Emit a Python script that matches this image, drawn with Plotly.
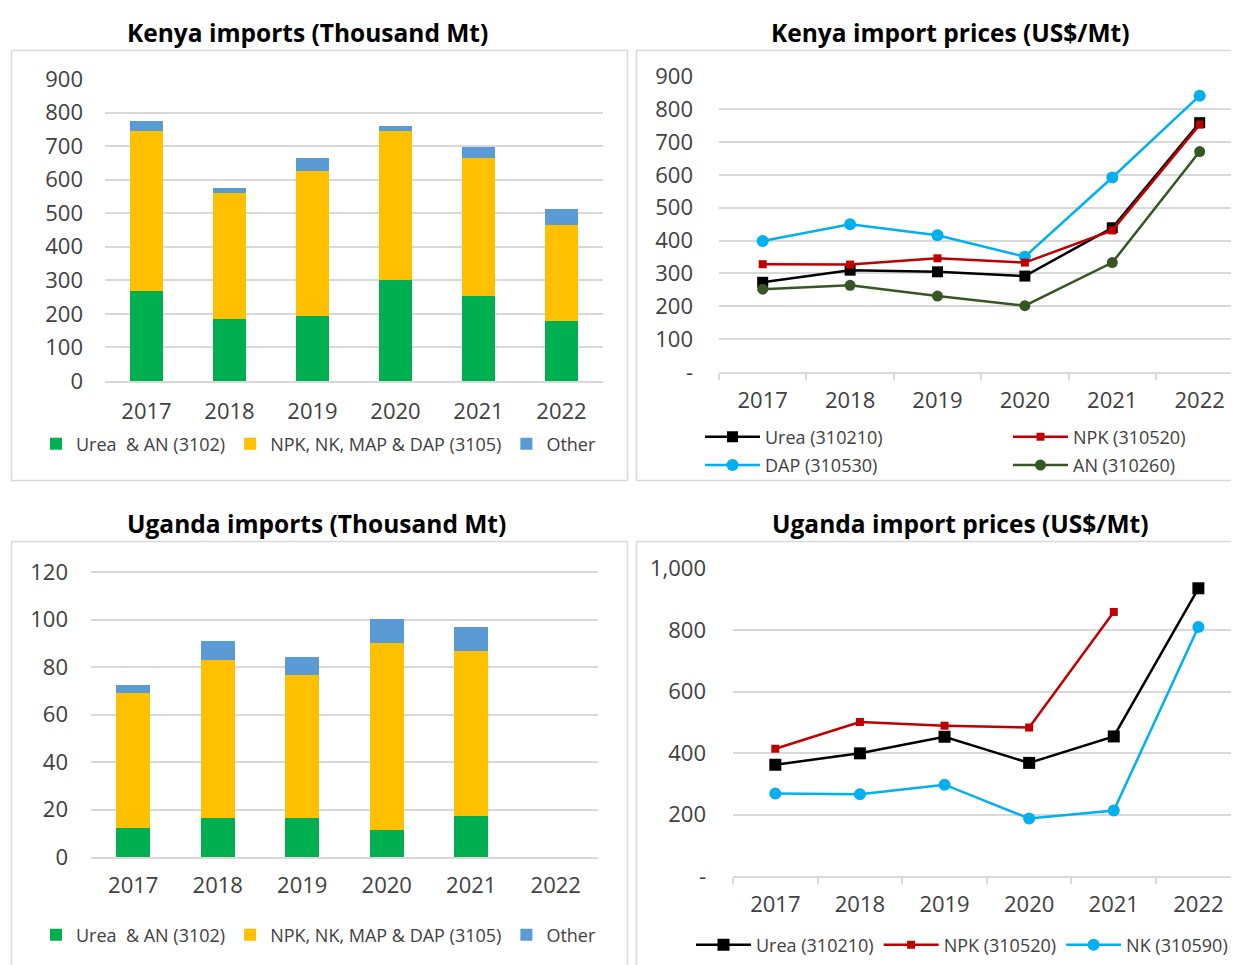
import plotly.graph_objects as go

# Categories
years = ['2017', '2018', '2019', '2020', '2021', '2022']

# Kenya imports (Thousand Mt)
kenya_urea_an = [268, 184, 193, 302, 253, 180]
kenya_npk = [478, 375, 433, 442, 413, 284]
kenya_other = [30, 17, 40, 17, 30, 49]

# Kenya import prices (US$/Mt)
kenya_urea_price = [273, 310, 305, 292, 439, 759]
kenya_npk_price = [328, 327, 346, 333, 431, 753]
kenya_dap_price = [399, 450, 416, 351, 592, 841]
kenya_an_price = [252, 264, 231, 202, 333, 671]

# Uganda imports (Thousand Mt) - no 2022 data
uganda_urea_an = [12.2, 16.4, 16.4, 11.2, 17.3, None]
uganda_npk = [56.8, 66.4, 60.4, 78.9, 69.7, None]
uganda_other = [3.4, 8.1, 7.3, 10.0, 10.1, None]

# Uganda import prices (US$/Mt)
uganda_urea_price = [362, 399, 453, 368, 454, 936]
uganda_npk_price = [414, 501, 489, 483, 859, None]
uganda_nk_price = [268, 266, 297, 187, 213, 810]

# Tick labels (Excel style "-" for zero)
kenya_price_tickvals = [0, 100, 200, 300, 400, 500, 600, 700, 800, 900]
kenya_price_ticktext = ['-', '100', '200', '300', '400', '500', '600', '700', '800', '900']
uganda_price_tickvals = [0, 200, 400, 600, 800, 1000]
uganda_price_ticktext = ['-', '200', '400', '600', '800', '1,000']

OFF = 8  # the page body has an 8px margin
W, H = 1239 - OFF, 965 - OFF  # so the figure fits the window exactly
FONT = 'Open Sans'
GRID = '#d9d9d9'
TXT = '#404040'

# helpers to go from page pixels to paper coords
def px(x):
    return (x - OFF) / W

def py(y):
    return 1 - (y - OFF) / H

bar_colours = ['#00B050', '#FFC000', '#5B9BD5']
bar_names = ['Urea  & AN (3102)', 'NPK, NK, MAP & DAP (3105)', 'Other']

fig = go.Figure()

# Kenya imports bars
for name, vals, col in zip(bar_names, [kenya_urea_an, kenya_npk, kenya_other], bar_colours):
    fig.add_trace(go.Bar(x=years, y=vals, name=name, marker=dict(color=col, line=dict(width=0)),
                         xaxis='x', yaxis='y', legend='legend'))

# Kenya price lines
kenya_lines = [
    ['Urea (310210)', kenya_urea_price, '#000000', 'square', 11, 'legend2'],
    ['DAP (310530)', kenya_dap_price, '#00B0F0', 'circle', 12, 'legend2'],
    ['NPK (310520)', kenya_npk_price, '#C00000', 'square', 8, 'legend3'],
    ['AN (310260)', kenya_an_price, '#375623', 'circle', 11, 'legend3'],
]
for name, vals, col, sym, size, leg in kenya_lines:
    fig.add_trace(go.Scatter(x=years, y=vals, name=name, mode='lines+markers',
                             line=dict(color=col, width=2.5),
                             marker=dict(color=col, symbol=sym, size=size),
                             xaxis='x2', yaxis='y2', legend=leg, legendgroup=name))

# Uganda imports bars
for name, vals, col in zip(bar_names, [uganda_urea_an, uganda_npk, uganda_other], bar_colours):
    fig.add_trace(go.Bar(x=years, y=vals, name=name, marker=dict(color=col, line=dict(width=0)),
                         xaxis='x3', yaxis='y3', legend='legend4'))

# Uganda price lines
uganda_lines = [
    ['Urea (310210)', uganda_urea_price, '#000000', 'square', 12],
    ['NPK (310520)', uganda_npk_price, '#C00000', 'square', 8],
    ['NK (310590)', uganda_nk_price, '#00B0F0', 'circle', 12],
]
for name, vals, col, sym, size in uganda_lines:
    fig.add_trace(go.Scatter(x=years, y=vals, name=name, mode='lines+markers',
                             line=dict(color=col, width=2.5),
                             marker=dict(color=col, symbol=sym, size=size),
                             xaxis='x4', yaxis='y4', legend='legend5'))

tickfont = dict(family=FONT, size=22, color=TXT)

bar_x = dict(type='category', showgrid=False, showline=True, linecolor=GRID, linewidth=1.5,
             ticks='', tickfont=tickfont, fixedrange=True)
line_x = dict(type='category', showgrid=False, showline=True, linecolor=GRID, linewidth=1.5,
              ticks='outside', ticklen=6, tickcolor=GRID, tickwidth=1.5, tickson='boundaries',
              tickfont=tickfont, ticklabelstandoff=8, fixedrange=True)
y_common = dict(showgrid=True, gridcolor=GRID, gridwidth=1.5, showline=False, zeroline=False,
                ticks='', tickfont=tickfont, fixedrange=True)

fig.update_layout(
    width=W, height=H, autosize=False,
    margin=dict(l=0, r=0, t=0, b=0, autoexpand=False),
    paper_bgcolor='white', plot_bgcolor='white',
    font=dict(family=FONT, color=TXT),
    barmode='stack', bargap=0.6,
    xaxis=dict(bar_x, domain=[px(105), px(603)], anchor='y', ticklabelstandoff=10),
    yaxis=dict(y_common, domain=[py(381), py(79)], range=[0, 900], dtick=100,
               ticklabelstandoff=21, anchor='x'),
    # right-hand panels run off the edge of the page, as in the original
    xaxis2=dict(line_x, domain=[px(719), 1], range=[-0.5, 5.45], anchor='y2'),
    yaxis2=dict(y_common, domain=[py(372), py(76)], range=[0, 901],
                tickvals=kenya_price_tickvals, ticktext=kenya_price_ticktext,
                ticklabelstandoff=25, anchor='x2'),
    xaxis3=dict(bar_x, domain=[px(91), px(598)], anchor='y3', ticklabelstandoff=8),
    yaxis3=dict(y_common, domain=[py(857), py(571)], range=[0, 120.5], dtick=20,
                ticklabelstandoff=22, anchor='x3'),
    xaxis4=dict(line_x, domain=[px(733), 1], range=[-0.5, 5.48], anchor='y4'),
    yaxis4=dict(y_common, domain=[py(876), py(568)], range=[0, 1002],
                tickvals=uganda_price_tickvals, ticktext=uganda_price_ticktext,
                ticklabelstandoff=26, anchor='x4'),
)

# Legends: one per panel, top-right split into two columns
legend_font = dict(family=FONT, size=18, color=TXT)
line_legend_font = dict(family=FONT, size=18, color=TXT)
fig.update_layout(
    legend=dict(orientation='h', x=px(36), y=py(444), xanchor='left', yanchor='middle',
                font=legend_font, bgcolor='rgba(0,0,0,0)', traceorder='normal'),
    legend2=dict(orientation='v', x=px(700), y=py(451), xanchor='left', yanchor='middle',
                 font=line_legend_font, bgcolor='rgba(0,0,0,0)', itemwidth=55, tracegroupgap=2),
    legend3=dict(orientation='v', x=px(1008), y=py(451), xanchor='left', yanchor='middle',
                 font=line_legend_font, bgcolor='rgba(0,0,0,0)', itemwidth=55, tracegroupgap=2),
    legend4=dict(orientation='h', x=px(36), y=py(935), xanchor='left', yanchor='middle',
                 font=legend_font, bgcolor='rgba(0,0,0,0)', traceorder='normal'),
    legend5=dict(orientation='h', x=px(691), y=py(945), xanchor='left', yanchor='middle',
                 font=line_legend_font, bgcolor='rgba(0,0,0,0)', itemwidth=55, traceorder='normal'),
)

# Panel titles
titles = [
    ['Kenya imports (Thousand Mt)', 307, 32],
    ['Kenya import prices (US$/Mt)', 950, 32],
    ['Uganda imports (Thousand Mt)', 316, 523],
    ['Uganda import prices (US$/Mt)', 960, 523],
]
for text, cx, cy in titles:
    fig.add_annotation(text='<b>' + text + '</b>', x=px(cx), y=py(cy), xref='paper', yref='paper',
                       xanchor='center', yanchor='middle', showarrow=False,
                       font=dict(family=FONT, size=24.5, color='#000000'))

# Panel borders (light grey boxes like the Excel chart areas)
# right and bottom panels are cut by the page edge, so only draw the visible sides
def border(pts):
    d = 'M ' + ' L '.join('%.5f,%.5f' % (px(x), py(y)) for x, y in pts)
    fig.add_shape(type='path', path=d, xref='paper', yref='paper',
                  line=dict(color=GRID, width=1.5), layer='below')

border([(11.5, 50.5), (627.5, 50.5), (627.5, 480.5), (11.5, 480.5), (11.5, 50.5)])
border([(1239, 50.5), (636.5, 50.5), (636.5, 480.5), (1239, 480.5)])
border([(11.5, 965), (11.5, 541.5), (627.5, 541.5), (627.5, 965)])
border([(636.5, 965), (636.5, 541.5), (1239, 541.5)])

fig.write_html("out.html")
